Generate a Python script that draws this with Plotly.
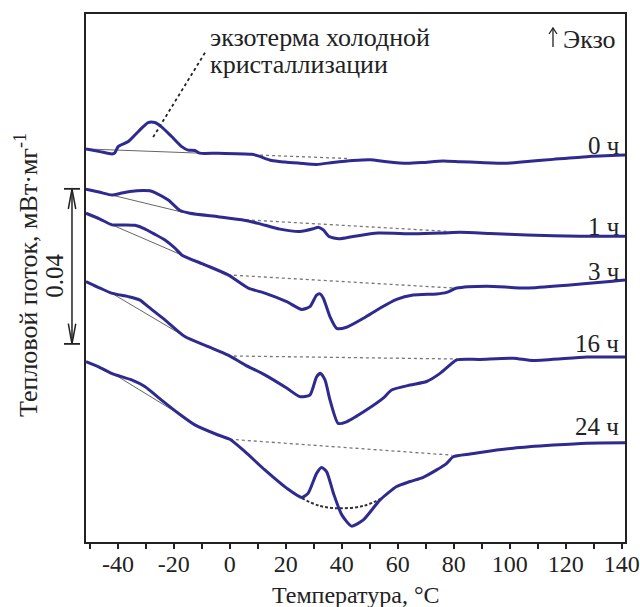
import plotly.graph_objects as go

# DSC heating curves: temperature (°C) and heat flow (mW/mg, curves offset vertically)
temp_0h = [-51.4, -46.4, -42.1, -41.1, -39.9, -36.3, -32.7, -29.2, -26.8, -24.4, -20.8, -17.2,
           -14.9, -12.5, -10.7, -4.2, 7.8, 10.1, 14.9, 19.7, 25.0, 31.0, 36.8, 44.0, 50.1, 56.1,
           63.3, 69.0, 76.2, 82.2, 89.4, 99.0, 107.2, 115.5, 127.6, 141.2]
flow_0h = [0.1014, 0.1007, 0.1001, 0.1004, 0.1020, 0.1033, 0.1059, 0.1082, 0.1082, 0.1071, 0.1046,
           0.1020, 0.1011, 0.1010, 0.1003, 0.1003, 0.1000, 0.0996, 0.0984, 0.0980, 0.0977, 0.0974,
           0.0979, 0.0984, 0.0986, 0.0981, 0.0977, 0.0979, 0.0983, 0.0981, 0.0979, 0.0977, 0.0982,
           0.0987, 0.0994, 0.0998]

temp_1h = [-51.4, -46.4, -42.1, -39.3, -35.7, -31.0, -28.6, -26.4, -22.0, -17.8, -14.3, -4.2, 4.2,
           10.1, 17.9, 25.0, 29.8, 31.6, 33.4, 35.4, 39.0, 44.1, 52.9, 65.4, 76.2, 82.2, 93.0,
           106.1, 125.1, 141.2]
flow_1h = [0.0910, 0.0902, 0.0895, 0.0899, 0.0904, 0.0907, 0.0906, 0.0900, 0.0882, 0.0855, 0.0848,
           0.0839, 0.0831, 0.0822, 0.0807, 0.0801, 0.0808, 0.0812, 0.0805, 0.0788, 0.0782, 0.0788,
           0.0797, 0.0795, 0.0797, 0.0799, 0.0796, 0.0792, 0.0789, 0.0789]

temp_3h = [-51.4, -46.4, -42.1, -37.5, -33.9, -30.4, -27.4, -23.2, -19.6, -17.1, -8.9, -0.6, 6.6,
           12.5, 20.3, 25.7, 28.6, 31.0, 32.2, 33.4, 35.8, 38.2, 41.7, 47.7, 53.6, 59.6, 65.5,
           73.9, 77.5, 81.1, 91.8, 106.1, 121.5, 135.8, 141.2]
flow_3h = [0.0848, 0.0833, 0.0818, 0.0818, 0.0817, 0.0808, 0.0796, 0.0779, 0.0758, 0.0740, 0.0715,
           0.0689, 0.0655, 0.0642, 0.0620, 0.0600, 0.0607, 0.0637, 0.0640, 0.0629, 0.0581, 0.0551,
           0.0554, 0.0577, 0.0603, 0.0626, 0.0637, 0.0640, 0.0644, 0.0655, 0.0660, 0.0655, 0.0663,
           0.0672, 0.0676]

temp_16h = [-51.4, -46.4, -42.3, -36.3, -32.1, -29.2, -23.2, -16.1, -7.7, -0.6, 5.4, 12.5, 20.3,
            25.0, 28.6, 31.0, 32.4, 34.0, 35.8, 38.7, 41.7, 48.9, 54.8, 57.8, 64.4, 70.3, 75.1,
            78.7, 81.1, 89.4, 101.3, 108.4, 127.5, 141.2]
flow_16h = [0.0672, 0.0655, 0.0642, 0.0633, 0.0624, 0.0607, 0.0573, 0.0530, 0.0504, 0.0482, 0.0457,
            0.0431, 0.0397, 0.0375, 0.0379, 0.0426, 0.0435, 0.0418, 0.0366, 0.0306, 0.0310, 0.0341,
            0.0371, 0.0392, 0.0405, 0.0414, 0.0435, 0.0457, 0.0470, 0.0471, 0.0474, 0.0468, 0.0477,
            0.0477]

temp_24h = [-51.4, -46.4, -42.3, -35.1, -30.4, -24.4, -18.4, -12.5, -4.2, 0.0, 5.4, 12.5, 20.3,
            25.7, 28.0, 31.0, 32.8, 34.6, 37.0, 40.0, 43.5, 47.7, 53.6, 59.6, 64.4, 69.1, 73.9,
            77.5, 79.8, 85.8, 89.4, 101.3, 115.6, 127.5, 141.2]
flow_24h = [0.0465, 0.0450, 0.0435, 0.0418, 0.0401, 0.0366, 0.0332, 0.0302, 0.0276, 0.0265, 0.0233,
            0.0186, 0.0139, 0.0115, 0.0126, 0.0177, 0.0192, 0.0181, 0.0126, 0.0070, 0.0041, 0.0057,
            0.0108, 0.0143, 0.0156, 0.0167, 0.0186, 0.0203, 0.0220, 0.0227, 0.0231, 0.0242, 0.0250,
            0.0255, 0.0256]

curve_labels = ["0 ч", "1 ч", "3 ч", "16 ч", "24 ч"]
label_flow = [0.1022, 0.0815, 0.0697, 0.0513, 0.0299]

tick_values = [-40, -20, 0, 20, 40, 60, 80, 100, 120, 140]
tick_labels = ["-40", "-20", "0", "20", "40", "60", "80", "100", "120", "140"]

# Tangent baselines at low temperature (solid) and above the glass step (dotted)
solid_base = [([-51.4, -10.7], [0.1014, 0.1003]),
              ([-51.4, -17.1], [0.0911, 0.0851]),
              ([-42.1, -17.1], [0.0818, 0.0740]),
              ([-42.3, -16.1], [0.0642, 0.0530]),
              ([-42.1, -19.3], [0.0436, 0.0335])]
dotted_base = [([10.8, 42.9], [0.0998, 0.0989]),
               ([3.6, 78.7], [0.0832, 0.0801]),
               ([-0.7, 80.4], [0.0689, 0.0655]),
               ([-0.7, 81.2], [0.0480, 0.0472]),
               ([0.0, 79.4], [0.0265, 0.0224])]
# Interpolated baseline under the melting peak of the 24 h sample
peak_base_temp = [25.7, 32.2, 39.3, 47.7, 54.0]
peak_base_flow = [0.0113, 0.0093, 0.0087, 0.0093, 0.0112]

# Pointer from the caption to the cold-crystallisation exotherm
pointer_temp = [-8.9, -27.6]
pointer_flow = [0.1262, 0.1042]

scale_top = 0.0911
scale_len = 0.04

LINE = "#2e2a8f"
INK = "#222222"
FONT = "Liberation Serif"

fig = go.Figure()

for bx, by in solid_base:
    fig.add_trace(go.Scatter(x=bx, y=by, mode="lines",
                             line=dict(color="#666666", width=1), hoverinfo="skip"))
for bx, by in dotted_base:
    fig.add_trace(go.Scatter(x=bx, y=by, mode="lines",
                             line=dict(color="#777777", width=1.3, dash="dot"), hoverinfo="skip"))
fig.add_trace(go.Scatter(x=peak_base_temp, y=peak_base_flow, mode="lines", line_shape="spline",
                         line=dict(color="#333333", width=2, dash="3px,2px"), hoverinfo="skip"))
fig.add_trace(go.Scatter(x=pointer_temp, y=pointer_flow, mode="lines",
                         line=dict(color="#222222", width=1.8, dash="dot"), hoverinfo="skip"))

for tx, fy in [(temp_0h, flow_0h), (temp_1h, flow_1h), (temp_3h, flow_3h),
               (temp_16h, flow_16h), (temp_24h, flow_24h)]:
    fig.add_trace(go.Scatter(x=tx, y=fy, mode="lines", line_shape="spline",
                             line=dict(color=LINE, width=3, smoothing=0.6)))

annotations = []
for lab, ly in zip(curve_labels, label_flow):
    annotations.append(dict(x=139.8, y=ly, xref="x", yref="y", text=lab, showarrow=False,
                            xanchor="right", yanchor="middle",
                            font=dict(family=FONT, size=25, color=INK)))

annotations += [
    dict(x=0.2263, y=0.9564, xref="paper", yref="paper", text="экзотерма холодной",
         showarrow=False, xanchor="left", yanchor="middle",
         font=dict(family=FONT, size=26, color=INK)),
    dict(x=0.2263, y=0.9053, xref="paper", yref="paper", text="кристаллизации",
         showarrow=False, xanchor="left", yanchor="middle",
         font=dict(family=FONT, size=26, color=INK)),
    dict(x=0.987, y=0.9508, xref="paper", yref="paper", text="Экзо",
         showarrow=False, xanchor="right", yanchor="middle",
         font=dict(family=FONT, size=26, color=INK)),
    dict(x=-0.1095, y=0.5057, xref="paper", yref="paper",
         text="Тепловой поток, мВт·мг<sup>-1</sup>", textangle=-90, showarrow=False,
         xanchor="center", yanchor="middle", font=dict(family=FONT, size=26, color=INK)),
    dict(x=-0.0575, y=scale_top - scale_len * 0.56, xref="paper", yref="y",
         text="0.04", textangle=-90, showarrow=False,
         xanchor="center", yanchor="middle", font=dict(family=FONT, size=25, color=INK)),
    dict(x=0.5, y=-0.1004, xref="paper", yref="paper", text="Температура, °C",
         showarrow=False, xanchor="center", yanchor="middle",
         font=dict(family=FONT, size=24, color=INK)),
]

# Vertical scale bar with end caps and open arrowheads
sx, cap_l, cap_r, arm_l, arm_r = -0.0260, -0.0408, -0.0111, -0.0328, -0.0190
sb = scale_top - scale_len
arm = 0.0052
shapes = [
    dict(type="line", xref="paper", yref="y", x0=sx, x1=sx, y0=sb, y1=scale_top,
         line=dict(color=INK, width=1.5)),
    dict(type="line", xref="paper", yref="y", x0=cap_l, x1=cap_r, y0=scale_top, y1=scale_top,
         line=dict(color=INK, width=1.8)),
    dict(type="line", xref="paper", yref="y", x0=cap_l, x1=cap_r, y0=sb, y1=sb,
         line=dict(color=INK, width=1.8)),
    dict(type="path", xref="paper", yref="y",
         path=f"M {arm_l} {scale_top - arm} L {sx} {scale_top} L {arm_r} {scale_top - arm}",
         line=dict(color=INK, width=1.5)),
    dict(type="path", xref="paper", yref="y",
         path=f"M {arm_l} {sb + arm} L {sx} {sb} L {arm_r} {sb + arm}",
         line=dict(color=INK, width=1.5)),
    # upward "exo" arrow
    dict(type="line", xref="paper", yref="paper", x0=0.8664, x1=0.8664, y0=0.9375, y1=0.9735,
         line=dict(color=INK, width=1.3)),
    dict(type="path", xref="paper", yref="paper",
         path="M 0.8590 0.9621 L 0.8664 0.9735 L 0.8738 0.9621",
         line=dict(color=INK, width=1.3)),
]

fig.update_layout(
    width=640, height=607,
    margin=dict(l=86, r=15, t=14, b=65),
    paper_bgcolor="white", plot_bgcolor="white",
    showlegend=False,
    annotations=annotations,
    shapes=shapes,
    font=dict(family=FONT, size=22, color=INK),
    xaxis=dict(range=[-51.4, 141.2], tickmode="array", tickvals=tick_values, ticktext=tick_labels,
               ticks="outside", ticklen=5, tickwidth=1.5, tickcolor=INK, ticklabelstandoff=-6,
               minor=dict(tickmode="linear", tick0=-50, dtick=10, ticks="outside",
                          ticklen=5, tickwidth=1.5, tickcolor=INK),
               showline=True, linecolor=INK, linewidth=2, mirror=True,
               showgrid=False, zeroline=False, automargin=False,
               tickfont=dict(family=FONT, size=24, color=INK)),
    yaxis=dict(range=[0, 0.1362], showline=True, linecolor=INK, linewidth=2, mirror=True,
               showticklabels=False, ticks="", showgrid=False, zeroline=False,
               automargin=False),
)

fig.write_html("out.html")
